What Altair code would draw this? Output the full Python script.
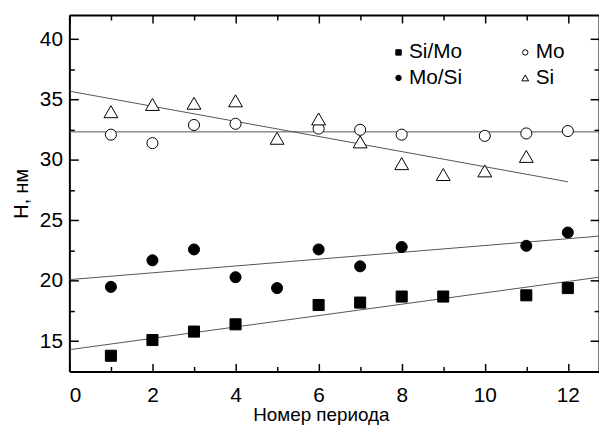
import altair as alt
import pandas as pd

# ---- data ----
si_mo_x = [1, 2, 3, 4, 6, 7, 8, 9, 11, 12]
si_mo_y = [13.8, 15.1, 15.8, 16.4, 18.0, 18.2, 18.7, 18.7, 18.8, 19.4]

mo_si_x = [1, 2, 3, 4, 5, 6, 7, 8, 11, 12]
mo_si_y = [19.5, 21.7, 22.6, 20.3, 19.4, 22.6, 21.2, 22.8, 22.9, 24.0]

mo_x = [1, 2, 3, 4, 6, 7, 8, 10, 11, 12]
mo_y = [32.1, 31.4, 32.9, 33.0, 32.6, 32.5, 32.1, 32.0, 32.2, 32.4]

si_x = [1, 2, 3, 4, 5, 6, 7, 8, 9, 10, 11]
si_y = [34.0, 34.6, 34.7, 34.9, 31.8, 33.4, 31.5, 29.7, 28.8, 29.1, 30.3]

# fitted straight lines (start / end points)
fit_series = ["Si/Mo", "Mo/Si", "Mo", "Si"]
fit_x0 = [0, 0, 0, 0]
fit_y0 = [14.3, 20.1, 32.33, 35.7]
fit_x1 = [12.75, 12.75, 12.75, 12]
fit_y1 = [20.3, 23.7, 32.33, 28.2]

# legend is filled column by column: Si/Mo, Mo/Si | Mo, Si
order = ["Si/Mo", "Mo/Si", "Mo", "Si"]
TRI = "M0,-1.08L1.25,1.08L-1.25,1.08Z"
shapes = ["square", "circle", "circle", TRI]
fills = ["black", "black", "white", "white"]

x_major = [0, 2, 4, 6, 8, 10, 12]
x_minor = [1, 3, 5, 7, 9, 11]
y_major = [15, 20, 25, 30, 35, 40]
y_minor = [17.5, 22.5, 27.5, 32.5, 37.5]

# ---- tables ----
rows = []
for name, xs, ys in [("Si/Mo", si_mo_x, si_mo_y), ("Mo/Si", mo_si_x, mo_si_y),
                     ("Mo", mo_x, mo_y), ("Si", si_x, si_y)]:
    for a, b in zip(xs, ys):
        rows.append({"x": a, "y": b, "series": name})
pts = pd.DataFrame(rows)

lrows = []
for s, a0, b0, a1, b1 in zip(fit_series, fit_x0, fit_y0, fit_x1, fit_y1):
    lrows.append({"x": a0, "y": b0, "series": s})
    lrows.append({"x": a1, "y": b1, "series": s})
lines = pd.DataFrame(lrows)

W, H = 535, 360
FONT = "Liberation Sans"
xscale = alt.Scale(domain=[0, 12.75], nice=False, zero=False)
yscale = alt.Scale(domain=[12.5, 42], nice=False, zero=False)


def tick_axis(orient, values, size, offset, domain=False):
    return alt.Axis(orient=orient, values=values, tickSize=size, offset=offset,
                    labels=False, domain=domain, domainWidth=2, domainColor="black",
                    tickColor="black", tickWidth=1.5, grid=False, title=None)


ax_bottom = alt.Axis(orient="bottom", values=x_major, tickSize=0, labelPadding=13,
                     labelFontSize=21, labelFont=FONT, labelColor="black",
                     domainWidth=2, domainColor="black", grid=False,
                     title="Номер периода", titleFont=FONT, titleFontSize=19,
                     titleFontWeight="normal", titleColor="black", titlePadding=1,
                     titleX=254, titleAlign="center")
ax_left = alt.Axis(orient="left", values=y_major, tickSize=0, labelPadding=7,
                   labelFontSize=21, labelFont=FONT, labelColor="black",
                   domainWidth=2, domainColor="black", grid=False,
                   title="H, нм", titleFont=FONT, titleFontSize=20,
                   titleFontWeight="normal", titleColor="black", titlePadding=8)

points = alt.Chart(pts).mark_point(opacity=1, strokeWidth=1, size=125).encode(
    x=alt.X("x:Q", scale=xscale, axis=ax_bottom),
    y=alt.Y("y:Q", scale=yscale, axis=ax_left),
    shape=alt.Shape("series:N", scale=alt.Scale(domain=order, range=shapes),
                    legend=alt.Legend(title=None, orient="none", legendX=322, legendY=27,
                                      columns=2, columnPadding=53, rowPadding=4,
                                      symbolSize=30, symbolStrokeWidth=1, labelOffset=0,
                                      labelFont=FONT, labelFontSize=21, labelColor="black")),
    fill=alt.Fill("series:N", scale=alt.Scale(domain=order, range=fills)),
    stroke=alt.Stroke("series:N", scale=alt.Scale(domain=order,
                      range=["black", "black", "black", "black"])),
)

fits = alt.Chart(lines).mark_line(color="#555555", strokeWidth=1, clip=True).encode(
    x=alt.X("x:Q", scale=xscale, axis=tick_axis("top", x_major, 8, -H)),
    y=alt.Y("y:Q", scale=yscale, axis=tick_axis("right", y_major, 9, -W)),
    detail="series:N",
)

dummy = alt.Chart(lines).mark_point(opacity=0)
d1 = dummy.encode(
    x=alt.X("x:Q", scale=xscale, axis=tick_axis("top", x_minor, 5, -H)),
    y=alt.Y("y:Q", scale=yscale, axis=tick_axis("right", y_minor, 5, -W)),
)
d2 = dummy.encode(
    x=alt.X("x:Q", scale=xscale, axis=tick_axis("bottom", x_major, 8, -H, domain=True)),
    y=alt.Y("y:Q", scale=yscale, axis=tick_axis("left", y_major, 9, -W, domain=True)),
)
d3 = dummy.encode(
    x=alt.X("x:Q", scale=xscale, axis=tick_axis("bottom", x_minor, 5, -H)),
    y=alt.Y("y:Q", scale=yscale, axis=tick_axis("left", y_minor, 5, -W)),
)

chart = alt.layer(fits, d1, d2, d3, points).resolve_axis(
    x="independent", y="independent"
).properties(
    width=W, height=H,
    autosize=alt.AutoSizeParams(type="none"),
    padding={"left": 62, "top": 5, "right": 0, "bottom": 55},
).configure_view(stroke=None).configure(background="white")

chart.save("out.html", embed_options={"renderer": "svg", "actions": False})
